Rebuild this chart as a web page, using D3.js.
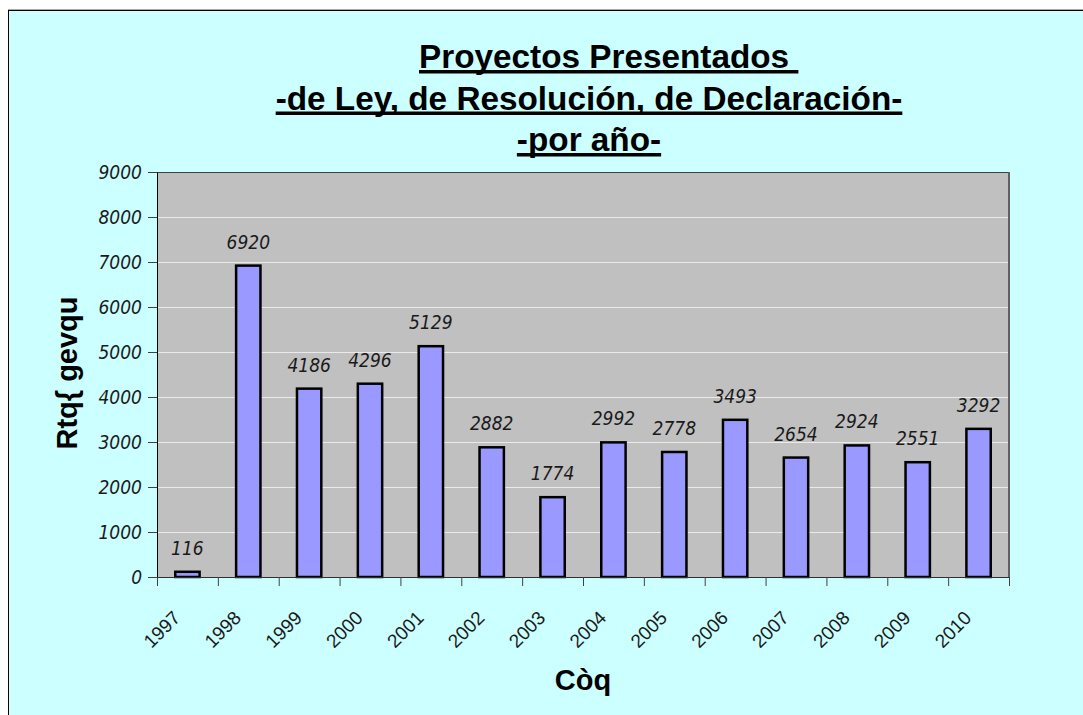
<!DOCTYPE html>
<html>
<head>
<meta charset="utf-8">
<script src="https://cdn.jsdelivr.net/npm/d3@7"></script>
<style>
  body { margin: 0; background: #fff; }
  svg { display: block; }
  text { font-family: "Liberation Sans", Arial, sans-serif; }
  .num { font-family: "DejaVu Sans Condensed", "DejaVu Sans", sans-serif; font-style: italic; font-size: 19px; fill: #1a1a1a; }
</style>
</head>
<body>
<svg id="chart"></svg>
<script>
// data
var years = ["1997", "1998", "1999", "2000", "2001", "2002", "2003",
             "2004", "2005", "2006", "2007", "2008", "2009", "2010"];
var proyectos = [116, 6920, 4186, 4296, 5129, 2882, 1774,
                 2992, 2778, 3493, 2654, 2924, 2551, 3292];
var yTicks = [0, 1000, 2000, 3000, 4000, 5000, 6000, 7000, 8000, 9000];
var titleLines = ["Proyectos Presentados ", "-de Ley, de Resolución, de Declaración-", "-por año-"];
var yLabel = "Rtq{ gevqu";
var xLabel = "Còq";

var W = 1083, H = 715;
var plot = {left: 157, top: 172, right: 1009, bottom: 577};

var svg = d3.select("#chart").attr("width", W).attr("height", H);

// chart area
svg.append("line")
  .attr("x1", 8).attr("x2", W).attr("y1", 9.5).attr("y2", 9.5)
  .attr("stroke", "#a8a8a8");
svg.append("rect")
  .attr("x", 8.5).attr("y", 10.5)
  .attr("width", W).attr("height", H)
  .attr("fill", "#ccffff").attr("stroke", "#000");

var x = d3.scaleBand()
  .domain(years)
  .range([plot.left, plot.right])
  .paddingInner(0.6)
  .paddingOuter(0.3);

var xEdge = d3.scaleLinear()
  .domain([0, years.length])
  .range([plot.left, plot.right]);

var y = d3.scaleLinear()
  .domain([0, 9000])
  .range([plot.bottom, plot.top]);

// plot area
svg.append("rect")
  .attr("x", plot.left).attr("y", plot.top)
  .attr("width", plot.right - plot.left)
  .attr("height", plot.bottom - plot.top)
  .attr("fill", "#c0c0c0");

svg.append("g").selectAll("line")
  .data(yTicks.slice(1, -1))
  .enter().append("line")
    .attr("x1", plot.left).attr("x2", plot.right)
    .attr("y1", function(d) { return Math.round(y(d)) + 0.5; })
    .attr("y2", function(d) { return Math.round(y(d)) + 0.5; })
    .attr("stroke", "#eaeaea");

svg.append("line")
  .attr("x1", plot.left).attr("x2", plot.right)
  .attr("y1", plot.top + 0.5).attr("y2", plot.top + 0.5)
  .attr("stroke", "#404040");
svg.append("line")
  .attr("x1", plot.right).attr("x2", plot.right)
  .attr("y1", plot.top).attr("y2", plot.bottom)
  .attr("stroke", "#606060").attr("stroke-width", 2);

// bars
svg.append("g").selectAll("rect")
  .data(proyectos)
  .enter().append("rect")
    .attr("x", function(d, i) { return x(years[i]); })
    .attr("y", function(d) { return y(d); })
    .attr("width", x.bandwidth())
    .attr("height", function(d) { return y(0) - y(d); })
    .attr("fill", "#9999ff")
    .attr("stroke", "#000")
    .attr("stroke-width", 2.5);

// value labels
svg.append("g").selectAll("text")
  .data(proyectos)
  .enter().append("text")
    .attr("class", "num")
    .attr("x", function(d, i) { return x(years[i]) + x.bandwidth() / 2; })
    .attr("y", function(d) { return y(d) - 17; })
    .attr("text-anchor", "middle")
    .text(function(d) { return d; });

// y axis
var yAxis = svg.append("g")
  .attr("transform", "translate(" + plot.left + ",0)")
  .call(d3.axisLeft(y).tickValues(yTicks).tickFormat(d3.format("d"))
    .tickSize(9).tickSizeOuter(0).tickPadding(6));
yAxis.select(".domain").attr("stroke", "#000");
yAxis.selectAll(".tick line").attr("stroke", "#404040");
yAxis.selectAll(".tick text")
  .attr("class", "num")
  .attr("fill", null);

// x axis: ticks between categories
var xAxis = svg.append("g")
  .attr("transform", "translate(0," + plot.bottom + ")")
  .call(d3.axisBottom(xEdge).tickValues(d3.range(0, years.length + 1))
    .tickSize(9).tickSizeOuter(0).tickFormat(""));
xAxis.select(".domain").attr("stroke", "#303030");
xAxis.selectAll(".tick line").attr("stroke", "#404040");

svg.append("g").selectAll("text")
  .data(years)
  .enter().append("text")
    .attr("transform", function(d) {
      return "translate(" + (x(d) + x.bandwidth() / 2 - 6) + ",619) rotate(-45)";
    })
    .attr("text-anchor", "end")
    .attr("font-size", "19px")
    .attr("fill", "#1a1a1a")
    .text(function(d) { return d; });

// title
var titleBase = [68, 109.5, 151];
var title = svg.append("g");
titleLines.forEach(function(line, i) {
  var t = title.append("text")
    .attr("y", titleBase[i])
    .attr("font-size", "33.3px")
    .attr("font-weight", "bold")
    .attr("fill", "#000")
    .style("white-space", "pre")
    .text(line);
  if (i === 0) t.attr("x", 419).attr("text-anchor", "start");
  else t.attr("x", 589).attr("text-anchor", "middle");
  var len = t.node().getComputedTextLength();
  var x0 = i === 0 ? 419 : 589 - len / 2;
  title.append("rect")
    .attr("x", x0).attr("y", titleBase[i] + 2)
    .attr("width", len).attr("height", 3.5)
    .attr("fill", "#000");
});

// axis titles
svg.append("text")
  .attr("transform", "translate(77,373) rotate(-90)")
  .attr("text-anchor", "middle")
  .attr("font-size", "29px")
  .attr("font-weight", "bold")
  .text(yLabel);

svg.append("text")
  .attr("x", 583).attr("y", 690)
  .attr("text-anchor", "middle")
  .attr("font-size", "29px")
  .attr("font-weight", "bold")
  .text(xLabel);
</script>
</body>
</html>
